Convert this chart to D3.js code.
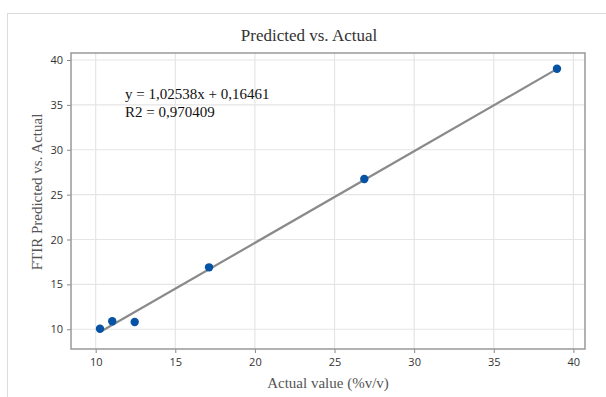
<!DOCTYPE html>
<html>
<head>
<meta charset="utf-8">
<script src="https://cdn.jsdelivr.net/npm/d3@7"></script>
<style>
  body { margin: 0; background: #fff; }
  svg { display: block; }
</style>
</head>
<body>
<div id="chart-area"></div>
<script>
// values
const actual = [10.27, 11.04, 12.45, 17.12, 26.87, 38.97];
const predicted = [10.05, 10.9, 10.8, 16.9, 26.74, 39.02];
const xTicks = [10, 15, 20, 25, 30, 35, 40];
const yTicks = [10, 15, 20, 25, 30, 35, 40];
// fit line as drawn in the picture (end points)
const fitX = [10.38, 38.95];
const fitY = [9.8, 38.98];
const eqLines = ['y = 1,02538x + 0,16461', 'R2 = 0,970409'];

const W = 606, H = 397;
const margins = { left: 71, right: 21, top: 53, bottom: 48 };
const width = W - margins.left - margins.right;
const height = H - margins.top - margins.bottom;

const root = d3.select('#chart-area').append('svg')
  .attr('width', W)
  .attr('height', H);

// outer frame
root.append('rect')
  .attr('x', 7.5).attr('y', 13.5)
  .attr('width', W + 10).attr('height', H + 10)
  .attr('fill', 'none').attr('stroke', '#dcdcdc');

const svg = root.append('g')
  .attr('transform', `translate(${margins.left}, ${margins.top})`);

const x = d3.scaleLinear().domain([8.45, 40.73]).range([0, width]);
const y = d3.scaleLinear().domain([7.8, 40.78]).range([height, 0]);

// grid
svg.append('g').selectAll('line')
  .data(xTicks).enter().append('line')
  .attr('x1', d => x(d)).attr('x2', d => x(d))
  .attr('y1', 0).attr('y2', height)
  .attr('stroke', '#e5e5e5').attr('stroke-width', 1.2);
svg.append('g').selectAll('line')
  .data(yTicks).enter().append('line')
  .attr('y1', d => y(d)).attr('y2', d => y(d))
  .attr('x1', 0).attr('x2', width)
  .attr('stroke', '#e5e5e5').attr('stroke-width', 1.2);

// axes
const xAxisCall = d3.axisBottom(x).tickValues(xTicks).tickSize(4).tickPadding(5);
const xg = svg.append('g')
  .attr('transform', `translate(0, ${height})`)
  .call(xAxisCall);
const yAxisCall = d3.axisLeft(y).tickValues(yTicks).tickSize(4).tickPadding(4);
const yg = svg.append('g').call(yAxisCall);
[xg, yg].forEach(g => {
  g.select('.domain').remove();
  g.selectAll('line').attr('stroke', '#888');
  g.selectAll('text')
    .attr('font-family', '"Open Sans", "Noto Sans", sans-serif')
    .attr('font-size', '11px')
    .attr('fill', '#333');
});

// plot border
svg.append('rect')
  .attr('width', width).attr('height', height)
  .attr('fill', 'none').attr('stroke', '#999').attr('stroke-width', 1.5);

// fit line
svg.append('line')
  .attr('x1', x(fitX[0])).attr('y1', y(fitY[0]))
  .attr('x2', x(fitX[1])).attr('y2', y(fitY[1]))
  .attr('stroke', '#8a8a8a').attr('stroke-width', 2.2);

// points
svg.selectAll('circle')
  .data(actual).enter().append('circle')
  .attr('cx', d => x(d))
  .attr('cy', (d, i) => y(predicted[i]))
  .attr('r', 4.2)
  .attr('fill', '#0652a5');

// equation
svg.append('g').selectAll('text')
  .data(eqLines).enter().append('text')
  .attr('x', 54)
  .attr('y', (d, i) => 46 + i * 18)
  .attr('font-family', '"Liberation Serif", serif')
  .attr('font-size', '15px')
  .attr('fill', '#111')
  .text(d => d);

// title and labels
root.append('text')
  .attr('x', 309).attr('y', 41)
  .attr('text-anchor', 'middle')
  .attr('font-family', '"Liberation Serif", serif')
  .attr('font-size', '17px')
  .attr('fill', '#333')
  .text('Predicted vs. Actual');
root.append('text')
  .attr('x', margins.left + width / 2).attr('y', 388)
  .attr('text-anchor', 'middle')
  .attr('font-family', '"Liberation Serif", serif')
  .attr('font-size', '15px')
  .attr('fill', '#555')
  .text('Actual value (%v/v)');
root.append('text')
  .attr('transform', `translate(42, 192) rotate(-90)`)
  .attr('text-anchor', 'middle')
  .attr('font-family', '"Liberation Serif", serif')
  .attr('font-size', '15px')
  .attr('fill', '#555')
  .text('FTIR Predicted vs. Actual');
</script>
</body>
</html>
